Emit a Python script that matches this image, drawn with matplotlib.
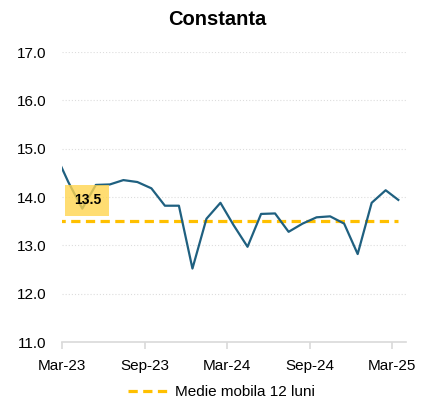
import pandas as pd
import matplotlib
matplotlib.use("Agg")
import matplotlib.pyplot as plt

plt.rcParams['font.family'] = ['Liberation Sans', 'DejaVu Sans']

# monthly values, mid-month, Feb-2023 .. Mar-2025
dates = pd.date_range("2023-02-01", periods=26, freq="MS") + pd.Timedelta(days=14)
values = [14.88, 14.31, 13.76, 14.25, 14.26, 14.35, 14.31, 14.18, 13.82, 13.82,
          12.52, 13.55, 13.88, 13.42, 12.97, 13.65, 13.66, 13.28, 13.45, 13.58,
          13.60, 13.45, 12.82, 13.88, 14.14, 13.94]
medie = 13.5
tick_dates = ["2023-03-01", "2023-09-01", "2024-03-01", "2024-09-01", "2025-03-01"]
tick_labels = ["Mar-23", "Sep-23", "Mar-24", "Sep-24", "Mar-25"]

fig = plt.figure(figsize=(4.26, 4.01), dpi=100)
ax = fig.add_axes([0.1455, 0.1471, 0.8075, 0.7232])

ax.plot(dates, values, color="#1F6080", linewidth=1.6, zorder=3)
ax.plot(dates, [medie] * len(dates), color="#FFC000", linewidth=2.3,
        linestyle=(0, (2.9, 1.7)), dash_capstyle="butt", zorder=2,
        label="Medie mobila 12 luni")

ax.text(pd.Timestamp("2023-04-26"), 13.93, f"{medie:.1f}", ha="center", va="center",
        fontsize=10, fontweight="bold", color="black", zorder=4,
        bbox=dict(boxstyle="square,pad=0.62", facecolor="#FFD54F", edgecolor="none", alpha=0.8))

ax.set_xlim(pd.Timestamp("2023-03-01"), pd.Timestamp("2025-04-01"))
ax.set_ylim(11, 17)
ax.set_yticks([11, 12, 13, 14, 15, 16, 17])
ax.yaxis.set_major_formatter(matplotlib.ticker.FormatStrFormatter("%.1f"))
ax.set_xticks(pd.to_datetime(tick_dates))
ax.set_xticklabels(tick_labels)

for y in range(12, 18):
    ax.axhline(y, color="#DDDDDD", linewidth=0.8, linestyle=(0, (1, 1.8)), zorder=1)

for side in ["left", "right", "top"]:
    ax.spines[side].set_visible(False)
ax.spines["bottom"].set_color("#D9D9D9")
ax.spines["bottom"].set_linewidth(1.2)
ax.tick_params(axis="y", length=0, pad=11, labelsize=11, labelcolor="#000000")
ax.tick_params(axis="x", length=5, width=1.2, color="#D9D9D9", pad=7, labelsize=11)

fig.suptitle("Constanta", x=0.51, y=0.975, fontsize=14.5, fontweight="bold")
fig.legend(loc="lower center", bbox_to_anchor=(0.52, -0.03), frameon=False, fontsize=11,
           handlelength=2.6, handletextpad=0.5)

fig.savefig("out.png", dpi=100)
